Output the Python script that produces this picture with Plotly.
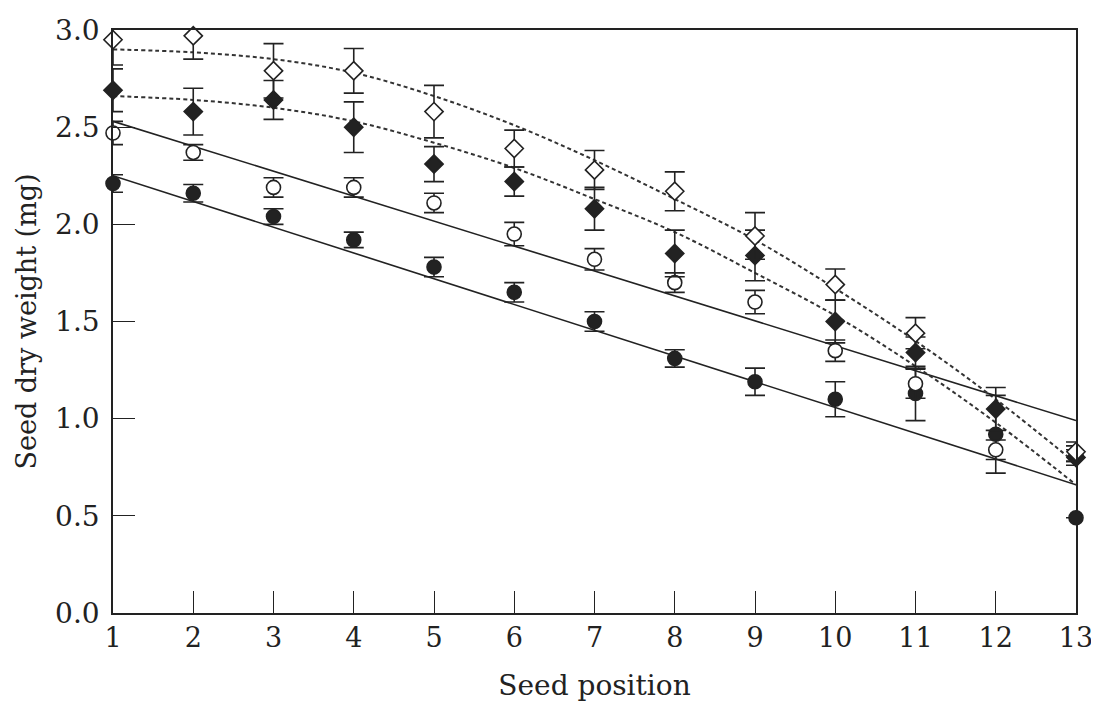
import plotly.graph_objects as go

# ---- data ----
positions = list(range(1, 14))

# open diamonds
od_mean = [2.95, 2.97, 2.79, 2.79, 2.58, 2.39, 2.28, 2.17, 1.94, 1.69, 1.44, None, 0.83]
od_err = [0.13, 0.12, 0.14, 0.115, 0.135, 0.095, 0.10, 0.10, 0.12, 0.08, 0.08, 0, 0.05]
# filled diamonds
fd_mean = [2.69, 2.58, 2.64, 2.50, 2.31, 2.22, 2.08, 1.85, 1.84, 1.50, 1.34, 1.05, 0.80]
fd_err = [0.11, 0.12, 0.10, 0.13, 0.09, 0.075, 0.11, 0.12, 0.13, 0.11, 0.08, 0.11, 0.04]
# open circles
oc_mean = [2.47, 2.37, 2.19, 2.19, 2.11, 1.95, 1.82, 1.70, 1.60, 1.35, 1.18, 0.84, 0.82]
oc_err = [0.06, 0.04, 0.05, 0.05, 0.05, 0.06, 0.055, 0.05, 0.06, 0.055, 0.075, 0.05, 0.04]
# filled circles
fc_mean = [2.21, 2.16, 2.04, 1.92, 1.78, 1.65, 1.50, 1.31, 1.19, 1.10, 1.13, 0.92, 0.49]
fc_err = [0.045, 0.045, 0.04, 0.04, 0.05, 0.05, 0.05, 0.045, 0.07, 0.09, 0.14, 0.20, 0.0]

# fitted curves (dotted) read at each seed position
od_fit = [2.90, 2.885, 2.85, 2.78, 2.66, 2.51, 2.33, 2.13, 1.92, 1.67, 1.40, 1.10, 0.77]
fd_fit = [2.66, 2.64, 2.60, 2.53, 2.42, 2.29, 2.13, 1.96, 1.75, 1.53, 1.27, 0.98, 0.66]
# regression lines (solid), value at first and last seed position
line_x = [1, 13]
oc_line = [2.53, 0.99]
fc_line = [2.25, 0.66]

x_ticks = list(range(1, 14))
y_ticks = [0.0, 0.5, 1.0, 1.5, 2.0, 2.5, 3.0]

INK = "#222222"
FONT = "DejaVu Serif"

fig = go.Figure()

# fitted lines
for ys in (oc_line, fc_line):
    fig.add_trace(go.Scatter(x=line_x, y=ys, mode="lines",
                             line=dict(color=INK, width=1.6),
                             hoverinfo="skip", showlegend=False))
for ys in (od_fit, fd_fit):
    fig.add_trace(go.Scatter(x=positions, y=ys, mode="lines",
                             line=dict(color="#333333", width=2, dash="4px,3px", shape="spline"),
                             hoverinfo="skip", showlegend=False))

def pts(ys, errs, symbol, fill, size):
    return go.Scatter(
        x=positions, y=ys, mode="markers", cliponaxis=False, showlegend=False,
        marker=dict(symbol=symbol, size=size, color=fill,
                    line=dict(color=INK, width=1.6)),
        error_y=dict(type="data", array=errs, visible=True,
                     color=INK, thickness=1.6, width=10),
    )

fig.add_trace(pts(fc_mean, fc_err, "circle", INK, 14))
fig.add_trace(pts(oc_mean, oc_err, "circle", "white", 14))
fig.add_trace(pts(fd_mean, fd_err, "diamond", INK, 14))
fig.add_trace(pts(od_mean, od_err, "diamond", "white", 14))

axis_common = dict(
    showline=True, linecolor=INK, linewidth=1.5, mirror=True,
    ticks="inside", ticklen=22, tickwidth=1.3, tickcolor=INK,
    showgrid=False, zeroline=False, automargin=False,
)

fig.update_layout(
    width=1091, height=694,
    margin=dict(l=105, r=23, t=22, b=89),
    paper_bgcolor="white", plot_bgcolor="white",
    font=dict(family=FONT, color=INK),
    xaxis=dict(range=[1, 13], tickvals=x_ticks,
               tickfont=dict(size=27, family=FONT, color=INK),
               title=dict(text="Seed position", font=dict(size=28, family=FONT, color=INK), standoff=24),
               **axis_common),
    yaxis=dict(range=[0, 3], tickvals=y_ticks, tickformat=".1f",
               tickfont=dict(size=28, family=FONT, color=INK),
               ticklabelstandoff=6,
               title=dict(text="Seed dry weight (mg)", font=dict(size=27, family=FONT, color=INK), standoff=11),
               **axis_common),
)

fig.write_html("out.html")
